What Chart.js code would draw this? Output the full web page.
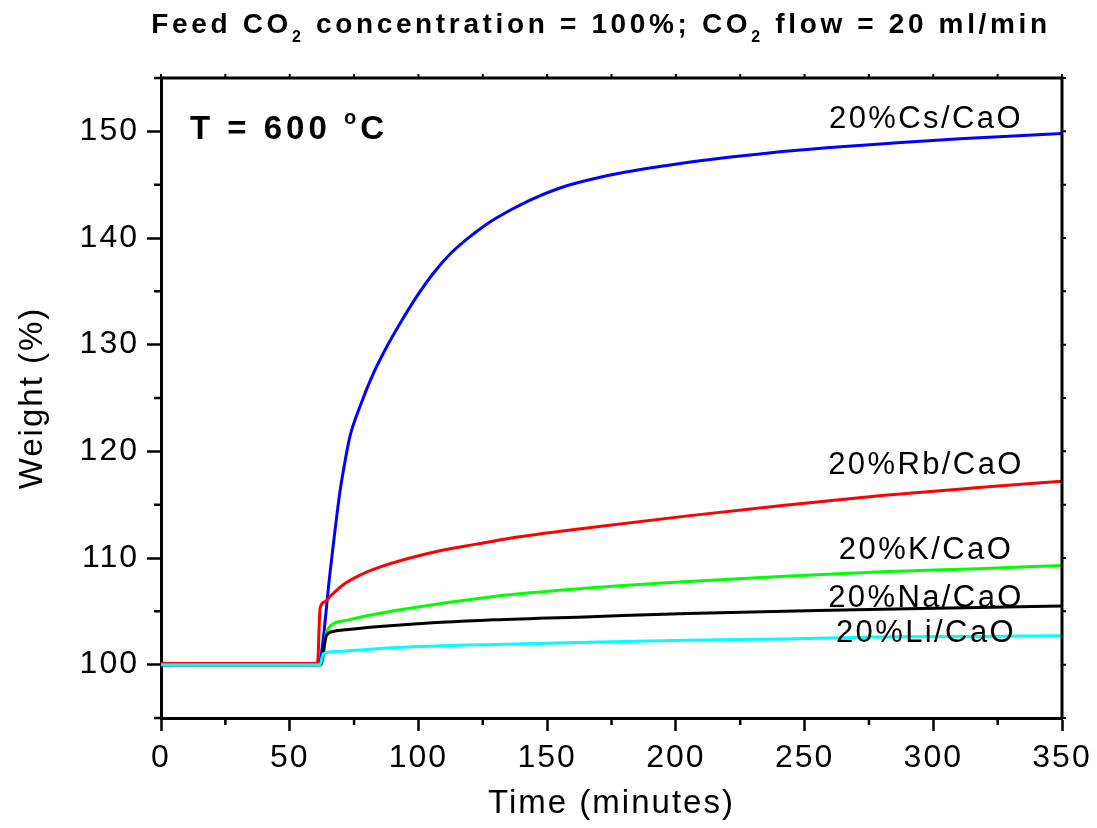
<!DOCTYPE html>
<html>
<head>
<meta charset="utf-8">
<script src="https://cdn.jsdelivr.net/npm/chart.js@4.4.0/dist/chart.umd.min.js"></script>
<style>
  html, body { margin: 0; padding: 0; background: #fff; }
</style>
</head>
<body>
<canvas id="tgaChart" width="1097" height="828"></canvas>
<script>
// axis ticks
const xTicks = [0, 50, 100, 150, 200, 250, 300, 350];
const yTicks = [100, 110, 120, 130, 140, 150];
const xMinor = [25, 75, 125, 175, 225, 275, 325];
const yMinor = [95, 105, 115, 125, 135, 145, 155];

const seriesNames = ['20%Li/CaO', '20%Na/CaO', '20%K/CaO', '20%Rb/CaO', '20%Cs/CaO'];
const seriesColors = ['#00ffff', '#000000', '#00ff00', '#ff0000', '#0000ff'];

// values (time in minutes, weight in %)
const liTime = [0, 61.8, 63, 66, 72.8, 91.7, 129.3, 167, 204.7, 242.3, 280, 317.6, 350];
const liWeight = [100, 100, 101.0, 101.2, 101.3, 101.6, 101.9, 102.1, 102.3, 102.4, 102.6, 102.65, 102.7];

const naTime = [0, 62, 64.2, 66.8, 72.8, 91.7, 129.3, 167, 204.7, 242.3, 280, 317.6, 350];
const naWeight = [100, 100, 102.7, 103.1, 103.3, 103.7, 104.2, 104.5, 104.8, 105.0, 105.2, 105.35, 105.5];

const kTime = [0, 62.2, 64.3, 65.6, 72.8, 91.7, 129.3, 167, 204.7, 242.3, 280, 317.6, 350];
const kWeight = [100, 100, 103.0, 103.6, 104.2, 105.1, 106.4, 107.2, 107.8, 108.3, 108.7, 109.0, 109.3];

const rbTime = [0, 60.8, 61.8, 63.7, 65.7, 70.8, 77.3, 83.8, 96.7, 109.7, 122.6, 135.6, 167, 204.6, 242.3, 280, 317.6, 350];
const rbWeight = [100.1, 100.1, 105.3, 105.9, 106.4, 107.5, 108.4, 109.05, 110.0, 110.75, 111.3, 111.85, 112.85, 113.95, 114.95, 115.85, 116.6, 117.2];

const csTime = [0, 61, 61.8, 65.7, 69.5, 71, 73.4, 77.3, 82.5, 87.7, 92.9, 99.3, 105.8, 112.3, 118.8, 126.5, 135.6, 144.7, 157.6, 170.6, 183.5, 196.5, 209.4, 235.3, 258.6, 284.5, 310.4, 350];
const csWeight = [100, 100, 100.3, 108.7, 116.2, 118.4, 121.4, 124.2, 127.3, 129.8, 132.0, 134.5, 136.7, 138.5, 139.9, 141.3, 142.6, 143.7, 144.9, 145.7, 146.3, 146.8, 147.25, 147.95, 148.45, 148.9, 149.3, 149.8];

const seriesTimes = [liTime, naTime, kTime, rbTime, csTime];
const seriesWeights = [liWeight, naWeight, kWeight, rbWeight, csWeight];

const FONT = 'Liberation Sans, Arial, sans-serif';

const toPoints = (t, w) => t.map((x, i) => ({ x: x, y: w[i] }));

// text with per-piece size / baseline shift
function drawRuns(ctx, runs, x, y, spacing, align) {
  ctx.save();
  ctx.letterSpacing = spacing + 'px';
  ctx.fillStyle = '#000';
  ctx.textBaseline = 'alphabetic';
  ctx.textAlign = 'left';
  let total = 0;
  runs.forEach(r => { ctx.font = r.font; total += ctx.measureText(r.text).width; });
  let cx = align === 'center' ? x - total / 2 : x;
  runs.forEach(r => {
    ctx.font = r.font;
    ctx.fillText(r.text, cx, y + (r.dy || 0));
    cx += ctx.measureText(r.text).width;
  });
  ctx.restore();
}

const framePlugin = {
  id: 'frame',
  beforeDraw(chart) {
    chart.ctx.letterSpacing = '2px';
  },
  afterDraw(chart) {
    const { ctx, chartArea: a, scales: { x, y } } = chart;
    ctx.save();
    ctx.strokeStyle = '#000';
    ctx.lineWidth = 3;
    ctx.beginPath();
    ctx.moveTo(a.left, a.top);
    ctx.lineTo(a.right, a.top);
    ctx.lineTo(a.right, a.bottom);
    ctx.stroke();

    ctx.lineWidth = 2.5;
    ctx.beginPath();
    xMinor.forEach(v => {
      const px = x.getPixelForValue(v);
      ctx.moveTo(px, a.bottom); ctx.lineTo(px, a.bottom + 7);
    });
    yMinor.forEach(v => {
      const py = y.getPixelForValue(v);
      ctx.moveTo(a.left, py); ctx.lineTo(a.left - 7, py);
    });
    ctx.stroke();

    ctx.lineWidth = 2;
    ctx.beginPath();
    xTicks.concat(xMinor).forEach(v => {
      const px = x.getPixelForValue(v);
      ctx.moveTo(px, a.top); ctx.lineTo(px, a.top - 4);
    });
    yTicks.concat(yMinor).forEach(v => {
      const py = y.getPixelForValue(v);
      ctx.moveTo(a.right, py); ctx.lineTo(a.right + 4, py);
    });
    ctx.stroke();
    ctx.restore();

    // curve labels
    const labelBase = [642, 607, 559, 474, 128];
    seriesNames.forEach((name, i) => {
      drawRuns(ctx, [{ text: name, font: '31px ' + FONT }], 926, labelBase[i], 2.4, 'center');
    });

    // temperature note
    drawRuns(ctx, [
      { text: 'T = 600 ', font: 'bold 33px ' + FONT },
      { text: 'o', font: 'bold 20px ' + FONT, dy: -15 },
      { text: 'C', font: 'bold 33px ' + FONT }
    ], 190, 139, 4, 'left');

    // title
    const big = 'bold 28px ' + FONT;
    const sub = 'bold 16px ' + FONT;
    drawRuns(ctx, [
      { text: 'Feed CO', font: big },
      { text: '2', font: sub, dy: 9 },
      { text: ' concentration = 100%; CO', font: big },
      { text: '2', font: sub, dy: 9 },
      { text: ' flow = 20 ml/min', font: big }
    ], 601, 33, 3.65, 'center');
  }
};

const datasets = seriesNames.map((name, i) => ({
  label: name,
  data: toPoints(seriesTimes[i], seriesWeights[i]),
  borderColor: seriesColors[i],
  backgroundColor: seriesColors[i],
  borderWidth: 3,
  pointRadius: 0,
  fill: false,
  cubicInterpolationMode: 'monotone'
}));

new Chart(document.getElementById('tgaChart'), {
  type: 'line',
  data: { datasets },
  plugins: [framePlugin],
  options: {
    responsive: false,
    animation: false,
    layout: { padding: { top: 78, right: 35, left: 0, bottom: 0 } },
    plugins: { legend: { display: false }, tooltip: { enabled: false } },
    scales: {
      x: {
        type: 'linear', min: 0, max: 350,
        afterBuildTicks: s => { s.ticks = xTicks.map(v => ({ value: v })); },
        afterFit: s => { s.height = 110; },
        grid: { drawOnChartArea: false, tickLength: 13, tickWidth: 2.5, tickColor: '#000' },
        border: { color: '#000', width: 3 },
        ticks: { color: '#000', padding: 8, maxRotation: 0, autoSkip: false, font: { family: FONT, size: 32 } },
        title: { display: true, text: 'Time (minutes)', color: '#000', font: { family: FONT, size: 33 }, padding: { top: 0, bottom: 4 } }
      },
      y: {
        min: 95, max: 155,
        afterBuildTicks: s => { s.ticks = yTicks.map(v => ({ value: v })); },
        afterFit: s => { s.width = 161; },
        grid: { drawOnChartArea: false, tickLength: 14, tickWidth: 2.5, tickColor: '#000' },
        border: { color: '#000', width: 3 },
        ticks: { color: '#000', padding: 8, font: { family: FONT, size: 32 } },
        title: { display: true, text: 'Weight (%)', color: '#000', font: { family: FONT, size: 33 }, padding: { top: 13, bottom: 0 } }
      }
    }
  }
});
</script>
</body>
</html>
